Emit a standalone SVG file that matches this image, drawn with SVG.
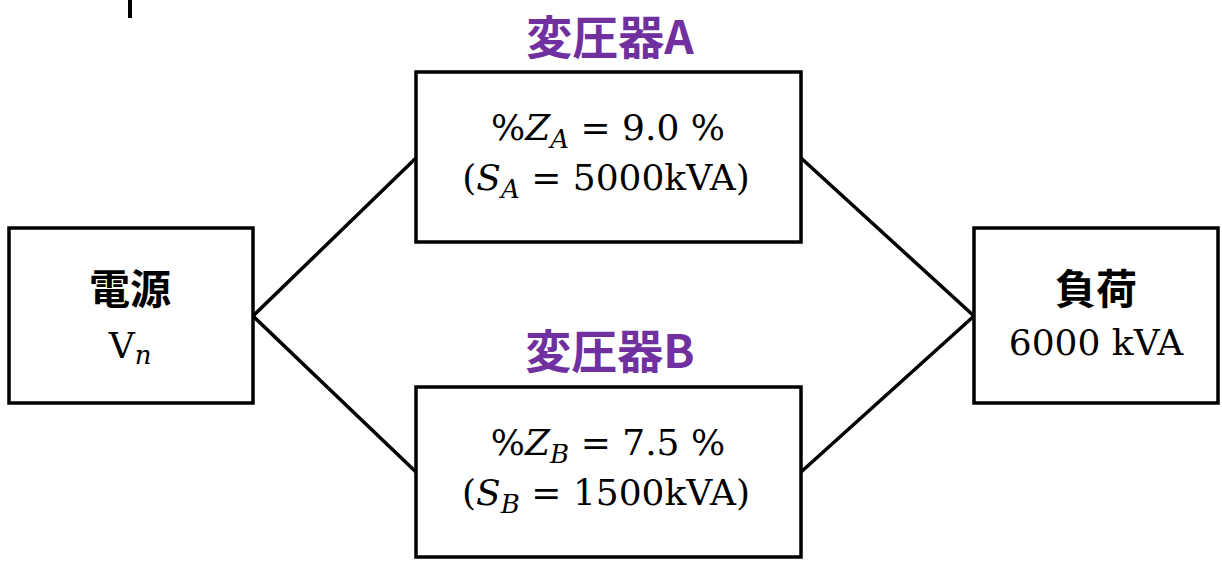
<svg xmlns="http://www.w3.org/2000/svg" width="1222" height="563" viewBox="0 0 1222 563">
<style>
.box{fill:#fff;stroke:#000;stroke-width:3.5}
.ln{stroke:#000;stroke-width:3.5;fill:none}
.m{font-family:"DejaVu Serif","Liberation Serif",serif;font-size:36px;fill:#000;text-anchor:middle}
.i{font-style:italic}
.sub{font-size:26px;font-style:italic}
.jp{font-family:"Noto Sans CJK JP","Noto Sans",sans-serif;font-weight:bold;font-size:41px;fill:#000;text-anchor:middle}
.lab{font-family:"Noto Sans CJK JP","Noto Sans",sans-serif;font-weight:bold;font-size:46px;fill:#7030A0;text-anchor:middle}
</style>
<line x1="130" y1="0" x2="130" y2="18" stroke="#000" stroke-width="4"/>
<g id="connectors">
<line class="ln" x1="253" y1="316" x2="416" y2="158"/>
<line class="ln" x1="253" y1="316" x2="416" y2="472"/>
<line class="ln" x1="801" y1="158" x2="974" y2="316"/>
<line class="ln" x1="801" y1="472" x2="974" y2="316"/>
</g>
<g id="source">
<rect class="box" x="9" y="228" width="244" height="175"/>
<text class="jp" x="130" y="304">電源</text>
<text class="m" x="130" y="358">V<tspan class="sub" dy="6">n</tspan></text>
</g>
<g id="transA">
<text class="lab" x="610" y="54">変圧器A</text>
<rect class="box" x="416" y="72" width="385" height="170"/>
<text class="m" x="608" y="140">%<tspan class="i">Z</tspan><tspan class="sub" dy="8">A</tspan><tspan dy="-8"> = 9.0 %</tspan></text>
<text class="m" x="606" y="190">(<tspan class="i">S</tspan><tspan class="sub" dy="8">A</tspan><tspan dy="-8"> = 5000kVA)</tspan></text>
</g>
<g id="transB">
<text class="lab" x="610" y="368">変圧器B</text>
<rect class="box" x="416" y="387" width="385" height="170"/>
<text class="m" x="608" y="455">%<tspan class="i">Z</tspan><tspan class="sub" dy="8">B</tspan><tspan dy="-8"> = 7.5 %</tspan></text>
<text class="m" x="606" y="505">(<tspan class="i">S</tspan><tspan class="sub" dy="8">B</tspan><tspan dy="-8"> = 1500kVA)</tspan></text>
</g>
<g id="load">
<rect class="box" x="974" y="228" width="244" height="175"/>
<text class="jp" x="1096" y="304">負荷</text>
<text class="m" x="1096" y="355">6000 kVA</text>
</g>
</svg>
